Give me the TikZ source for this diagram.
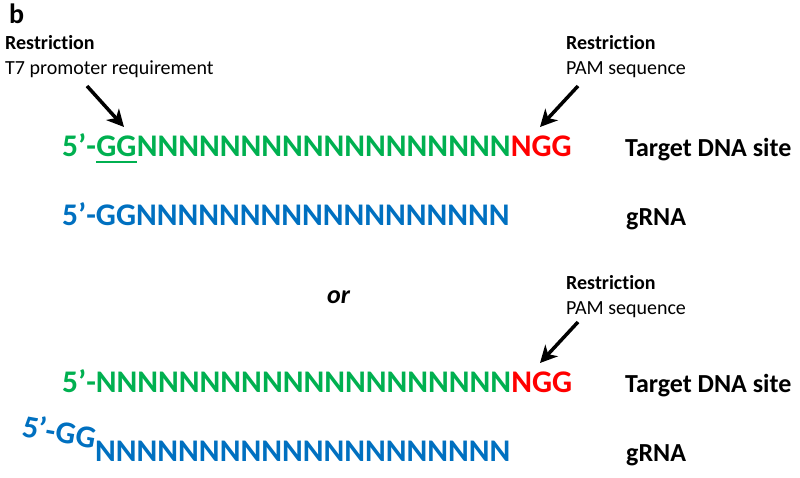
\documentclass[tikz,border=0pt]{standalone}
\usepackage{fontspec}
\setmainfont{Carlito}[Ligatures=NoCommon]
\usetikzlibrary{arrows.meta}
\definecolor{dnagreen}{RGB}{0,176,80}
\definecolor{rnablue}{RGB}{0,112,192}
\definecolor{pamred}{RGB}{255,0,0}
\tikzset{
  seq/.style={anchor=base west, inner sep=0pt, font=\fontsize{31.5}{36}\selectfont\bfseries},
  lbl/.style={anchor=base west, inner sep=0pt, font=\fontsize{26}{30}\selectfont\bfseries},
  note/.style={anchor=base west, inner sep=0pt, align=left, font=\fontsize{20}{26}\selectfont},
  bigarrow/.style={line width=3.5pt, -{Stealth[length=17pt,width=17pt,inset=5pt]}}
}
\begin{document}
\begin{tikzpicture}[x=1pt,y=-1pt]
\useasboundingbox (0,0) rectangle (800,478);
% panel letter
\node[anchor=base west, inner sep=0pt, font=\fontsize{28}{32}\selectfont\bfseries] (panel) at (9,24) {b};
% left restriction note
\node[note] (rl1) at (5,50) {\bfseries Restriction};
\node[note] (rl2) at (5,75) {T7 promoter requirement};
% right restriction note (top)
\node[note] (rr1) at (566,50) {\bfseries Restriction};
\node[note] (rr2) at (566,75) {PAM sequence};
% line 1
\node[seq, text=dnagreen] (s1a) at (62,157) {5’-};
\node[seq, text=dnagreen] (s1gg) at (s1a.base east) {GG};
\node[seq, text=dnagreen] (s1n) at (s1gg.base east) {NNNNNNNNNNNNNNNNNN};
\node[seq, text=pamred] (s1p) at (s1n.base east) {NGG};
\draw[dnagreen, line width=1.6pt] ([yshift=-5pt]s1gg.base west) -- ([yshift=-5pt]s1gg.base east);
\node[lbl] (t1) at (625,157) {Target DNA site};
% line 2
\node[seq, text=rnablue] (s2) at (62,226) {5’-GGNNNNNNNNNNNNNNNNNN};
\node[lbl] (g1) at (626,226) {gRNA};
% or
\node[anchor=base west, inner sep=0pt, font=\fontsize{26}{30}\selectfont\bfseries\itshape] (or) at (327,303) {or};
% right restriction note (bottom)
\node[note] (rb1) at (566,289) {\bfseries Restriction};
\node[note] (rb2) at (566,314) {PAM sequence};
% line 3
\node[seq, text=dnagreen] (s3) at (62,392) {5’-NNNNNNNNNNNNNNNNNNNN};
\node[seq, text=pamred] (s3p) at (s3.base east) {NGG};
\node[lbl] (t2) at (625,392) {Target DNA site};
% line 4
\node[seq, text=rnablue, rotate=-10] (s4a) at (21,436) {5’-GG};
\node[seq, text=rnablue] (s4n) at (95,461) {NNNNNNNNNNNNNNNNNNNN};
\node[lbl] (g2) at (626,461) {gRNA};
% arrows
\coordinate (a1s) at (87,86);
\coordinate (a1e) at (124,127);
\coordinate (a2s) at (578,86);
\coordinate (a2e) at (540,127);
\coordinate (a3s) at (578,322);
\coordinate (a3e) at (540,363);
\draw[bigarrow] (a1s) -- (a1e);
\draw[bigarrow] (a2s) -- (a2e);
\draw[bigarrow] (a3s) -- (a3e);
\end{tikzpicture}
\end{document}
